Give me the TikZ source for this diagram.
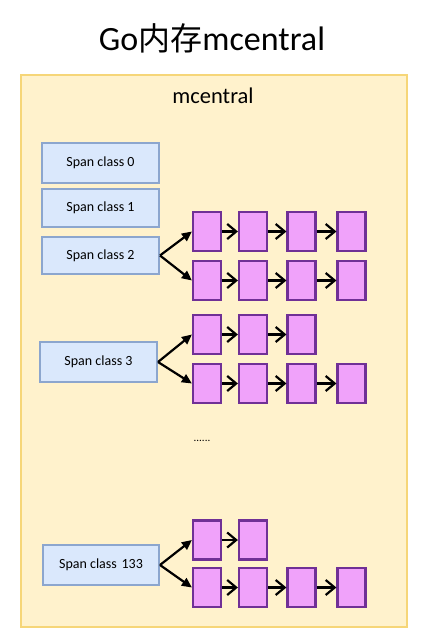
\documentclass[tikz,border=0pt]{standalone}
\usepackage{fontspec}
\setmainfont{Carlito}
\newfontfamily\cjk{Noto Sans CJK SC}
\usetikzlibrary{arrows.meta}
\definecolor{outerfill}{RGB}{255,242,204}
\definecolor{outerdraw}{RGB}{246,214,120}
\definecolor{spanfill}{RGB}{218,232,252}
\definecolor{spandraw}{RGB}{140,166,206}
\definecolor{pfill}{RGB}{240,162,250}
\definecolor{pdraw}{RGB}{112,48,150}
\tikzset{
  spanbox/.style={draw=spandraw, fill=spanfill, line width=2pt, inner sep=0pt,
    minimum width=117pt, font=\fontsize{14}{16}\selectfont},
  pbox/.style={draw=pdraw, fill=pfill, line width=2.2pt, inner sep=0pt,
    minimum width=28pt, minimum height=39pt},
  fork/.style={line width=2.2pt, -{Triangle[length=10pt,width=9pt]}},
  chain/.style={line width=2.2pt, -{Straight Barb[length=9pt,width=15pt,line width=2.2pt]}},
}
\begin{document}
\begin{tikzpicture}[x=1pt,y=-1pt]
\useasboundingbox (0,0) rectangle (424,644);
\node (title) at (212,38) {\fontsize{34}{38}\selectfont Go{\cjk\fontsize{32}{38}\selectfont 内存}mcentral};
\node[draw=outerdraw, fill=outerfill, line width=2.2pt, minimum width=386pt, minimum height=552pt, inner sep=0pt] (outer) at (214,351) {};
\node (mc) at (213,96) {\fontsize{22.5}{26}\selectfont mcentral};
% span class boxes
\node[spanbox, minimum height=40pt] (s0) at (100.5,163) {Span class 0};
\node[spanbox, minimum height=38pt] (s1) at (100.5,208) {Span class 1};
\node[spanbox, minimum height=37pt] (s2) at (100.5,255.5) {Span class 2};
\node[spanbox, minimum height=40pt] (s3) at (98.5,362) {Span class 3};
\node[spanbox, minimum height=40pt, minimum width=116pt] (s133) at (101,565) {Span class\,\,133};
% purple rows
\foreach \r/\y/\n in {a/231.5/4, b/280.5/4, c/334.5/3, d/383.5/4, e/540/2, f/587.5/4}{
  \foreach \x [count=\i] in {207,253,301.5,351.5}{
    \ifnum\i>\n\else
      \node[pbox] (\r\i) at (\x,\y) {};
    \fi
  }
}
% chain arrows
\foreach \r/\n in {a/4, b/4, c/3, d/4, e/2, f/4}{
  \foreach \i [evaluate=\i as \j using int(\i+1)] in {1,...,3}{
    \ifnum\i<\n
      \draw[chain] (\r\i.east) -- (\r\i.east -| \r\j.west);
    \fi
  }
}
% fork arrows
\draw[fork] (s2.east) -- (a1.west);
\draw[fork] (s2.east) -- (b1.west);
\draw[fork] (s3.east) -- (c1.west);
\draw[fork] (s3.east) -- (d1.west);
\draw[fork] (s133.east) -- (e1.west);
\draw[fork] (s133.east) -- (f1.west);
\node[font=\fontsize{11}{12}\selectfont] (dots) at (202,441) {......};
\end{tikzpicture}
\end{document}
